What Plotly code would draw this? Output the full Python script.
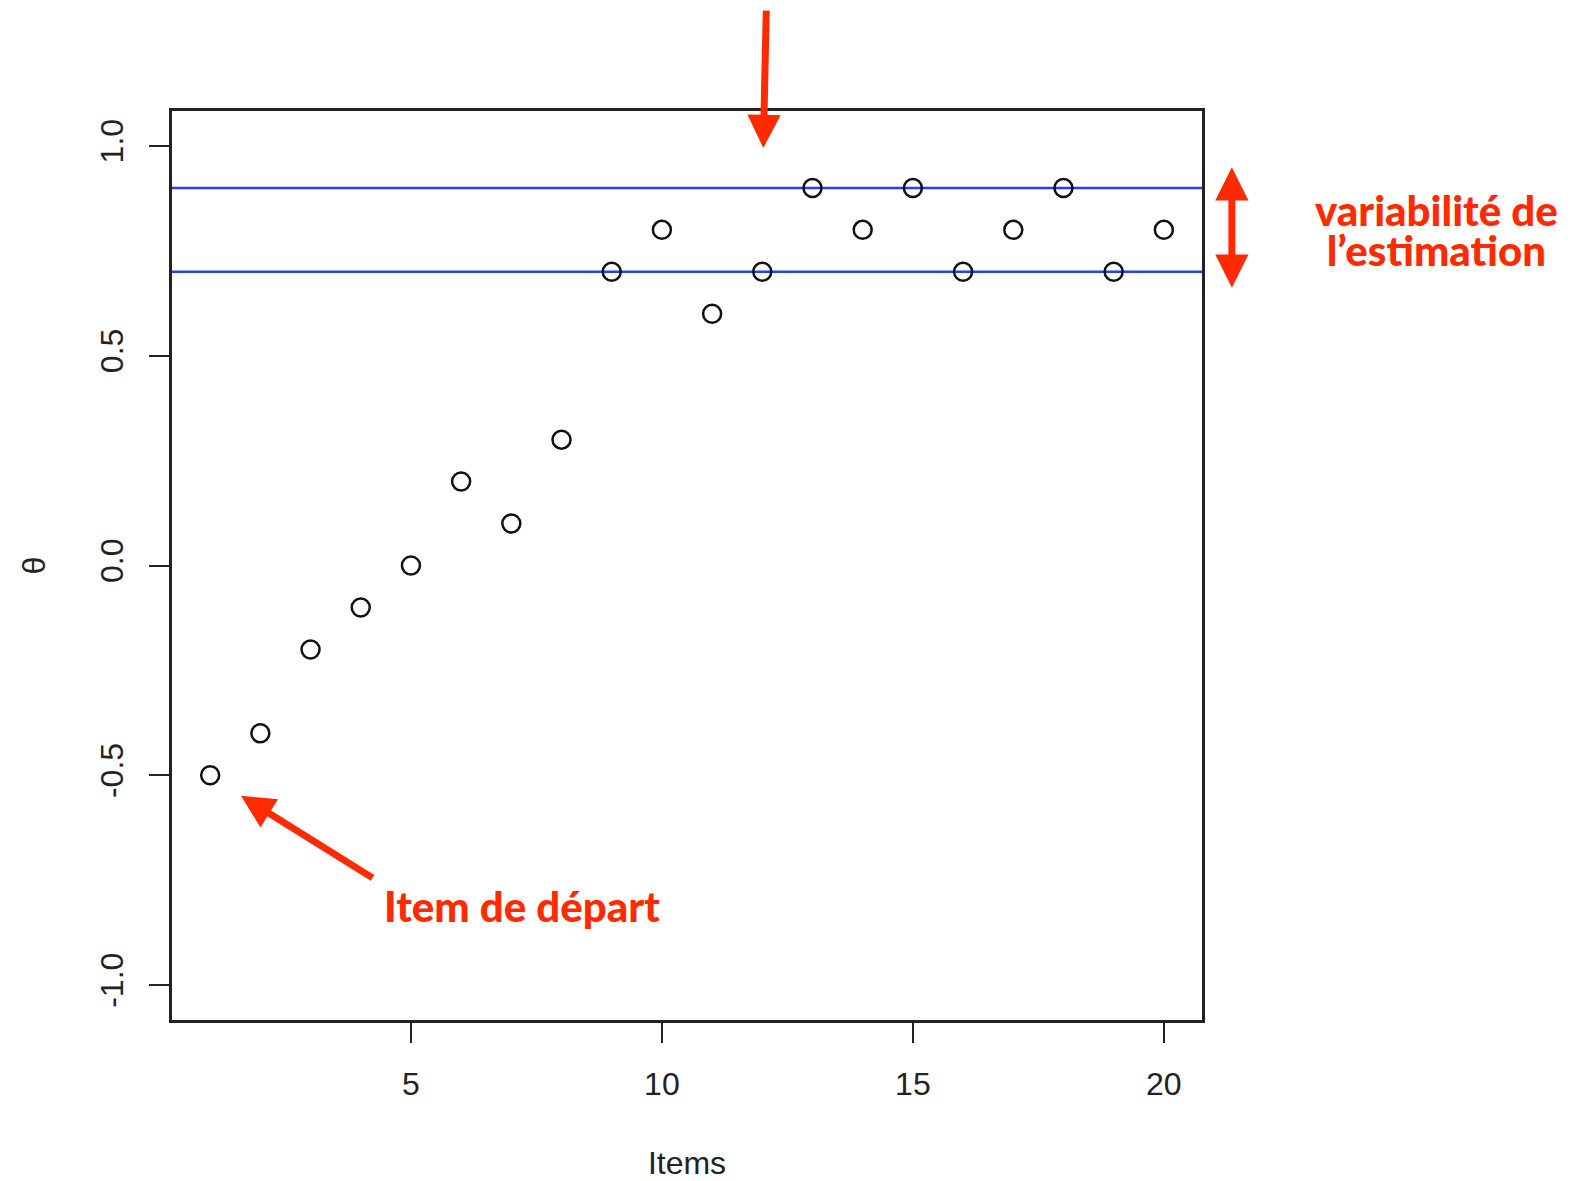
import plotly.graph_objects as go

items = list(range(1, 21))
theta = [-0.5, -0.4, -0.2, -0.1, 0.0, 0.2, 0.1, 0.3, 0.7, 0.8,
         0.6, 0.7, 0.9, 0.8, 0.9, 0.7, 0.8, 0.9, 0.7, 0.8]
band_levels = [0.9, 0.7]
x_ticks = [5, 10, 15, 20]
y_ticks = [-1.0, -0.5, 0.0, 0.5, 1.0]
y_ticktext = ["-1.0", "-0.5", "0.0", "0.5", "1.0"]

RED = "#FF2A00"
AXFONT = dict(family="Liberation Sans, Arial, sans-serif", size=32, color="#222222")
ANNFONT = dict(family="Lato, Open Sans, sans-serif", size=42, color=RED, weight=900)
# smaller base size only sets the line spacing of the two-line label
ANNFONT2 = dict(family="Lato, Open Sans, sans-serif", size=31, color=RED, weight=900)

fig = go.Figure()
fig.add_trace(go.Scatter(
    x=items, y=theta, mode="markers",
    marker=dict(symbol="circle-open", size=18, color="#111111", line=dict(width=2.5)),
    showlegend=False, cliponaxis=False,
))

for lv in band_levels:
    fig.add_shape(type="line", xref="x domain", yref="y", x0=0, x1=1, y0=lv, y1=lv,
                  line=dict(color="#2B3BFF", width=2.5), layer="below")

fig.update_xaxes(
    range=[0.24, 20.76], tickvals=x_ticks, ticks="outside", ticklen=20, tickwidth=2,
    tickcolor="#222222", showline=True, linecolor="#222222", linewidth=2.5, mirror=True,
    showgrid=False, zeroline=False, tickfont=AXFONT, ticklabelstandoff=14,
    title=dict(text="Items", font=AXFONT, standoff=62),
)
fig.update_yaxes(
    range=[-1.0833, 1.0833], tickvals=y_ticks, ticktext=y_ticktext, ticks="outside",
    ticklen=20, tickwidth=2, tickcolor="#222222", showline=True, linecolor="#222222",
    linewidth=2.5, mirror=True, showgrid=False, zeroline=False, tickfont=AXFONT,
    tickangle=-90, ticklabelstandoff=13,
    title=dict(text="θ", font=AXFONT, standoff=40),
)

# Arrows
fig.add_annotation(x=12.02, y=0.995, xref="x", yref="y", ax=3, ay=-139,
                   axref="pixel", ayref="pixel", showarrow=True, arrowhead=2,
                   arrowsize=0.95, arrowwidth=7, arrowcolor=RED, text="")
fig.add_annotation(x=1.029, y=0.662, xref="paper", yref="y", ax=0, ay=-122,
                   axref="pixel", ayref="pixel", showarrow=True, arrowhead=2,
                   startarrowhead=2, arrowside="end+start", arrowsize=0.95,
                   startarrowsize=0.95, arrowwidth=7, arrowcolor=RED, text="")
fig.add_annotation(x=1.615, y=-0.549, xref="x", yref="y", ax=133, ay=83,
                   axref="pixel", ayref="pixel", showarrow=True, arrowhead=2,
                   arrowsize=0.95, arrowwidth=7, arrowcolor=RED, text="")

# Labels
fig.add_annotation(x=7.21, y=-0.812, xref="x", yref="y", text="Item de départ",
                   showarrow=False, font=ANNFONT, xanchor="center")
fig.add_annotation(
    x=1.228, y=0.80, xref="paper", yref="y",
    text=('<span style="font-size:42px">variabilité de</span><br>'
          '<span style="font-size:42px">l’estimation</span>'),
    showarrow=False, font=ANNFONT2, xanchor="center", yanchor="middle", align="center")

fig.update_layout(
    width=1567, height=1173,
    margin=dict(l=164, r=373, t=103, b=161, autoexpand=False),
    plot_bgcolor="white", paper_bgcolor="white",
)
fig.write_html("out.html")
